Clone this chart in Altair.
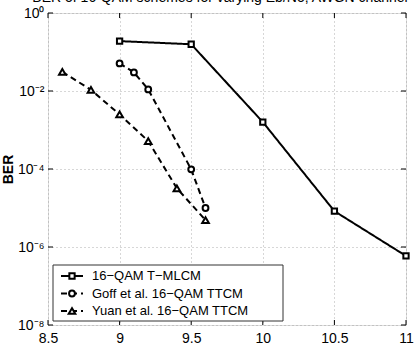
import altair as alt
import pandas as pd

# ---- data ----
names = ["16\u2212QAM T\u2212MLCM", "Goff et al. 16\u2212QAM TTCM", "Yuan et al. 16\u2212QAM TTCM"]
snr_tmlcm = [9.0, 9.5, 10.0, 10.5, 11.0]
ber_tmlcm = [0.19, 0.158, 1.6e-3, 8.3e-6, 5.9e-7]
snr_goff = [9.0, 9.1, 9.2, 9.5, 9.6]
ber_goff = [0.051, 0.030, 0.011, 9.8e-5, 1.0e-5]
snr_yuan = [8.6, 8.8, 9.0, 9.2, 9.4, 9.6]
ber_yuan = [0.031, 0.0107, 2.5e-3, 5.2e-4, 3.2e-5, 4.9e-6]
x_ticks = [8.5, 9.0, 9.5, 10.0, 10.5, 11.0]
y_ticks = [1e-8, 1e-6, 1e-4, 1e-2, 1.0]
title_text = "BER of 16-QAM schemes for varying Eb/No, AWGN channel"

FONT = "Liberation Sans"
W, H = 358, 312

rows = []
for name, xs, ys in zip(names, [snr_tmlcm, snr_goff, snr_yuan], [ber_tmlcm, ber_goff, ber_yuan]):
    for i, (a, b) in enumerate(zip(xs, ys)):
        rows.append({"series": name, "snr": a, "ber": b, "order": i})
df = pd.DataFrame(rows)

shapes = ["square", "circle", "triangle-up"]
dashes = [[1, 0], [6, 4], [6, 4]]
sizes = [28, 34, 44]

xscale = alt.Scale(domain=[8.5, 11], nice=False)
yscale = alt.Scale(type="log", domain=[1e-8, 1], nice=False)

label_expr = ("'10' + (round(log(datum.value)/LN10) == 0 ? '\u2070' : "
              "round(log(datum.value)/LN10) == -2 ? '\u207b\u00b2' : "
              "round(log(datum.value)/LN10) == -4 ? '\u207b\u2074' : "
              "round(log(datum.value)/LN10) == -6 ? '\u207b\u2076' : '\u207b\u2078')")

X = alt.X("snr:Q", scale=xscale,
          axis=alt.Axis(values=x_ticks, format=".1~f", title=None, ticks=False,
                        labelPadding=6, labelFontSize=14, labelFont=FONT, labelColor="black",
                        grid=True, gridDash=[1, 3], gridColor="#999999", gridWidth=0.8,
                        domain=False, labelFlush=False))
Y = alt.Y("ber:Q", scale=yscale,
          axis=alt.Axis(values=y_ticks, labelExpr=label_expr, title="BER", ticks=False,
                        labelPadding=4, labelFontSize=14, labelFont=FONT, labelColor="black",
                        titleFont=FONT, titleFontSize=14, titleFontWeight="bold",
                        titleColor="black", titleX=-33, titleY=H / 2,
                        grid=True, gridDash=[1, 3], gridColor="#999999", gridWidth=0.8,
                        domain=False, labelFlush=False))

layers = []
for k, name in enumerate(names):
    sub = df[df.series == name]
    base = alt.Chart(sub)
    layers.append(base.mark_line(color="black", strokeWidth=2, strokeDash=dashes[k]).encode(
        x=X, y=Y, order="order:Q"))
    layers.append(base.mark_point(shape=shapes[k], size=sizes[k], filled=True, fill="white",
                                  stroke="black", strokeWidth=2, opacity=1).encode(
        x=alt.X("snr:Q", scale=xscale), y=alt.Y("ber:Q", scale=yscale)))

# inward tick marks on all four sides (through the scales)
xt = alt.Chart(pd.DataFrame({"t": x_ticks}))
yt = alt.Chart(pd.DataFrame({"t": y_ticks}))
layers.append(xt.mark_rule(color="black", strokeWidth=1).encode(
    x=alt.X("t:Q", scale=xscale), y=alt.value(H), y2=alt.value(H - 5)))
layers.append(xt.mark_rule(color="black", strokeWidth=1).encode(
    x=alt.X("t:Q", scale=xscale), y=alt.value(0), y2=alt.value(5)))
layers.append(yt.mark_rule(color="black", strokeWidth=1).encode(
    y=alt.Y("t:Q", scale=yscale), x=alt.value(0), x2=alt.value(5)))
layers.append(yt.mark_rule(color="black", strokeWidth=1).encode(
    y=alt.Y("t:Q", scale=yscale), x=alt.value(W), x2=alt.value(W - 5)))

# manual legend
one = alt.Chart(pd.DataFrame({"a": [0]}))
layers.append(one.mark_rect(fill="white", stroke="#333333", strokeWidth=1).encode(
    x=alt.value(5), x2=alt.value(235), y=alt.value(252), y2=alt.value(308)))
for k, name in enumerate(names):
    ly = 263 + 17.5 * k
    layers.append(one.mark_rule(color="black", strokeWidth=2, strokeDash=dashes[k]).encode(
        x=alt.value(13), x2=alt.value(35), y=alt.value(ly)))
    layers.append(one.mark_point(shape=shapes[k], size=sizes[k], filled=True, fill="white",
                                 stroke="black", strokeWidth=2, opacity=1).encode(
        x=alt.value(24), y=alt.value(ly)))
    layers.append(one.mark_text(text=name, align="left", baseline="middle", font=FONT,
                                fontSize=13, color="black").encode(
        x=alt.value(44), y=alt.value(ly)))

# partially visible title at the top (cut off by the page edge, as in the reference)
layers.append(one.mark_text(text=title_text, align="center", baseline="alphabetic", font=FONT,
                            fontSize=14, color="black").encode(
    x=alt.value(172), y=alt.value(-11)))

chart = alt.layer(*layers).properties(
    width=W, height=H,
    padding={"left": 48, "top": 13, "right": 12, "bottom": 23},
    autosize=alt.AutoSizeParams(type="none"),
).configure_view(stroke="black", strokeWidth=1.2).configure(background="white")

chart.save("out.html", embed_options={"renderer": "svg", "actions": False})
